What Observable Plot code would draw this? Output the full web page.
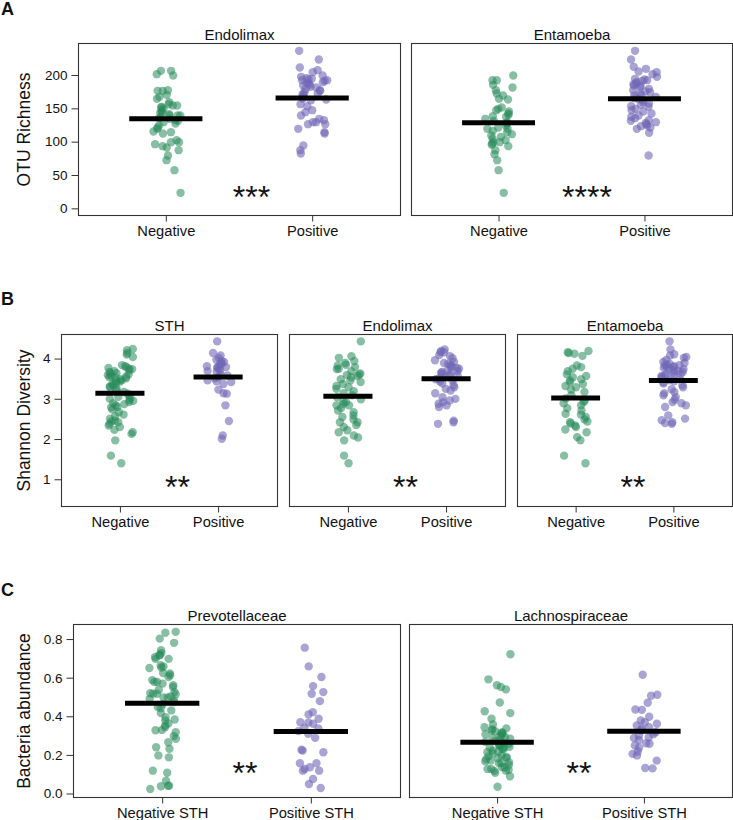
<!DOCTYPE html>
<html><head><meta charset="utf-8">
<script src="https://cdn.jsdelivr.net/npm/d3@7"></script>
<script src="https://cdn.jsdelivr.net/npm/@observablehq/plot@0.6"></script>
<style>
body{margin:0;background:#fff;}
#root{position:relative;width:733px;height:820px;font-family:"Liberation Sans",Arial,sans-serif;color:#111;}
.panel{position:absolute;}
.tag{position:absolute;left:1px;font-weight:bold;font-size:18px;line-height:18px;}
</style></head><body><div id="root"></div>
<script>
// ---- categories / labels ----
const groups = ["Negative", "Positive"];
const groupsSTH = ["Negative STH", "Positive STH"];
const titlesA = ["Endolimax", "Entamoeba"];
const titlesB = ["STH", "Endolimax", "Entamoeba"];
const titlesC = ["Prevotellaceae", "Lachnospiraceae"];
const yLabels = ["OTU Richness", "Shannon Diversity", "Bacteria abundance"];
const ticksA = [0, 50, 100, 150, 200];
const ticksB = [1, 2, 3, 4];
const ticksC = [0, 0.2, 0.4, 0.6, 0.8];
const starsA = ["***", "****"];
const starsB = ["**", "**", "**"];
const starsC = ["**", "**"];

// ---- A: OTU richness ----
const richEndoNeg = [24, 58, 73, 80, 88, 92, 94, 97, 100, 100, 103, 113, 115, 116, 120, 122, 125, 128, 130, 132, 133, 135, 136, 138, 140, 140, 142, 144, 145, 148, 150, 152, 153, 155, 155, 157, 160, 165, 168, 171, 177, 177, 178, 200, 202, 207, 207, 140];
const richEndoPos = [237, 224, 212, 208, 205, 200, 198, 196, 195, 194, 193, 193, 192, 190, 189, 188, 186, 185, 183, 182, 180, 178, 177, 175, 173, 172, 170, 168, 165, 164, 163, 157, 154, 148, 145, 140, 135, 133, 130, 130, 127, 127, 120, 115, 113, 95, 88, 83];
const richEntaNeg = [200, 193, 193, 186, 182, 178, 173, 170, 165, 164, 152, 150, 148, 146, 143, 141, 139, 138, 135, 132, 130, 128, 125, 122, 120, 120, 117, 115, 112, 110, 108, 105, 103, 100, 100, 98, 96, 94, 88, 82, 73, 58, 24];
const richEntaPos = [237, 224, 213, 210, 206, 205, 202, 198, 195, 194, 193, 192, 190, 188, 187, 185, 185, 183, 180, 178, 176, 175, 173, 171, 170, 168, 166, 165, 163, 160, 158, 156, 154, 153, 150, 148, 146, 143, 140, 138, 136, 133, 132, 130, 129, 127, 125, 124, 122, 120, 114, 80];

// ---- B: Shannon diversity ----
const shanSthNeg = [4.25, 4.22, 4.15, 4.11, 4.05, 3.85, 3.82, 3.80, 3.78, 3.76, 3.75, 3.72, 3.70, 3.68, 3.65, 3.64, 3.62, 3.60, 3.58, 3.56, 3.55, 3.54, 3.52, 3.50, 3.47, 3.45, 3.44, 3.40, 3.38, 3.35, 3.32, 3.30, 3.26, 3.22, 3.18, 3.14, 3.10, 3.06, 3.03, 3.01, 2.98, 2.96, 2.93, 2.90, 2.88, 2.85, 2.81, 2.80, 2.75, 2.68, 2.62, 2.58, 2.52, 2.47, 2.45, 2.43, 2.39, 2.35, 2.31, 2.24, 2.18, 2.14, 1.98, 1.60, 1.41];
const shanSthPos = [4.44, 4.15, 4.09, 4.03, 3.98, 3.95, 3.93, 3.90, 3.88, 3.85, 3.82, 3.80, 3.80, 3.78, 3.76, 3.72, 3.70, 3.68, 3.62, 3.59, 3.55, 3.52, 3.47, 3.45, 3.43, 3.38, 3.24, 3.15, 3.14, 2.85, 2.46, 2.10, 2.02];
const shanEndoNeg = [4.44, 4.07, 4.03, 3.95, 3.90, 3.86, 3.84, 3.80, 3.76, 3.75, 3.70, 3.64, 3.62, 3.60, 3.58, 3.55, 3.50, 3.47, 3.43, 3.38, 3.33, 3.30, 3.26, 3.20, 3.15, 3.10, 3.05, 3.00, 2.95, 2.93, 2.88, 2.85, 2.85, 2.78, 2.72, 2.68, 2.60, 2.56, 2.50, 2.43, 2.43, 2.36, 2.31, 2.23, 2.18, 2.10, 2.05, 1.98, 1.60, 1.41];
const shanEndoPos = [4.24, 4.20, 4.17, 4.17, 4.10, 4.07, 4.02, 3.97, 3.93, 3.90, 3.88, 3.85, 3.82, 3.80, 3.78, 3.76, 3.72, 3.70, 3.68, 3.66, 3.64, 3.62, 3.60, 3.59, 3.55, 3.52, 3.50, 3.47, 3.44, 3.40, 3.35, 3.30, 3.26, 3.22, 3.15, 3.05, 3.01, 2.97, 2.93, 2.89, 2.85, 2.81, 2.47, 2.43, 2.39];
const shanEntaNeg = [4.20, 4.17, 4.15, 4.13, 4.08, 3.84, 3.80, 3.76, 3.70, 3.62, 3.58, 3.55, 3.50, 3.47, 3.43, 3.38, 3.33, 3.30, 3.24, 3.18, 3.10, 3.02, 2.97, 2.93, 2.90, 2.85, 2.78, 2.72, 2.64, 2.62, 2.56, 2.50, 2.45, 2.43, 2.40, 2.35, 2.31, 2.25, 2.18, 2.06, 1.98, 1.60, 1.41];
const shanEntaPos = [4.44, 4.24, 4.12, 4.09, 4.05, 4.03, 3.98, 3.93, 3.90, 3.88, 3.86, 3.85, 3.84, 3.82, 3.80, 3.80, 3.78, 3.76, 3.75, 3.72, 3.70, 3.68, 3.66, 3.64, 3.62, 3.60, 3.58, 3.57, 3.55, 3.52, 3.50, 3.47, 3.45, 3.42, 3.39, 3.35, 3.30, 3.25, 3.18, 3.15, 3.10, 3.05, 2.99, 2.93, 2.90, 2.85, 2.81, 2.60, 2.52, 2.48, 2.43, 2.41, 2.39];

// ---- C: Bacteria abundance ----
const prevNeg = [0.84, 0.835, 0.805, 0.783, 0.745, 0.73, 0.72, 0.719, 0.71, 0.70, 0.70, 0.667, 0.66, 0.655, 0.653, 0.627, 0.625, 0.615, 0.606, 0.59, 0.58, 0.58, 0.572, 0.563, 0.554, 0.54, 0.528, 0.522, 0.52, 0.519, 0.516, 0.506, 0.50, 0.50, 0.494, 0.485, 0.476, 0.465, 0.45, 0.445, 0.433, 0.42, 0.398, 0.386, 0.381, 0.365, 0.355, 0.346, 0.332, 0.33, 0.32, 0.30, 0.286, 0.268, 0.242, 0.234, 0.20, 0.19, 0.121, 0.11, 0.069, 0.043, 0.043, 0.04, 0.026];
const prevPos = [0.758, 0.661, 0.606, 0.559, 0.528, 0.519, 0.481, 0.424, 0.412, 0.39, 0.372, 0.37, 0.364, 0.343, 0.34, 0.326, 0.312, 0.291, 0.229, 0.225, 0.216, 0.159, 0.159, 0.139, 0.13, 0.121, 0.121, 0.078, 0.052, 0.031];
const lachNeg = [0.724, 0.594, 0.563, 0.554, 0.542, 0.474, 0.429, 0.419, 0.39, 0.36, 0.346, 0.34, 0.335, 0.329, 0.325, 0.32, 0.315, 0.312, 0.31, 0.303, 0.30, 0.295, 0.29, 0.286, 0.28, 0.275, 0.27, 0.265, 0.26, 0.255, 0.251, 0.248, 0.245, 0.242, 0.24, 0.235, 0.23, 0.225, 0.22, 0.216, 0.21, 0.20, 0.195, 0.19, 0.19, 0.185, 0.18, 0.173, 0.17, 0.165, 0.16, 0.16, 0.15, 0.14, 0.139, 0.13, 0.13, 0.125, 0.121, 0.12, 0.11, 0.092, 0.038];
const lachPos = [0.618, 0.514, 0.509, 0.473, 0.438, 0.436, 0.40, 0.381, 0.372, 0.364, 0.355, 0.346, 0.338, 0.33, 0.32, 0.31, 0.303, 0.294, 0.29, 0.28, 0.263, 0.26, 0.251, 0.24, 0.22, 0.208, 0.20, 0.173, 0.135, 0.133];

// ---- drawing ----
const GREEN = "#268a5a", PURPLE = "#6f68b5";
const FONT = "'Liberation Sans', Arial, sans-serif";
const root = document.getElementById("root");

function panel(cfg) {
  const rnd = d3.randomUniform.source(d3.randomLcg(cfg.seed))(-cfg.jitter, cfg.jitter);
  const pts = [];
  [cfg.neg, cfg.pos].forEach((arr, g) => arr.forEach(v => pts.push({g, v, j: g + rnd()})));
  const means = [cfg.neg, cfg.pos].map((arr, g) => ({g, m: d3.mean(arr)}));
  const marks = [
    Plot.dot(pts.filter(d => d.g === 0), {x: "j", y: "v", r: 4.2, fill: GREEN, fillOpacity: 0.55}),
    Plot.dot(pts.filter(d => d.g === 1), {x: "j", y: "v", r: 4.2, fill: PURPLE, fillOpacity: 0.6}),
    Plot.ruleY(means, {x1: d => d.g - 0.25, x2: d => d.g + 0.25, y: "m", stroke: "#000", strokeWidth: 5}),
    Plot.text([cfg.stars], {x: () => 0.5, y: () => cfg.starY, text: d => d, fontSize: 32, dx: cfg.starDx, dy: 8, fill: "#111"}),
    Plot.text([cfg.title], {frameAnchor: "top", dy: -14, fontSize: 15, text: d => d, fill: "#111"}),
    Plot.frame({stroke: "#333", strokeWidth: 1.1}),
    Plot.axisX({ticks: [0, 1], tickFormat: i => cfg.labels[i], tickSize: 6.5, tickPadding: 3.5, fontSize: 14.7, label: null, stroke: "#333", fill: "#111"})
  ];
  if (cfg.showY) {
    marks.push(Plot.axisY({ticks: cfg.yTicks, tickFormat: cfg.yFormat, tickSize: 6.5, tickPadding: 4.5, fontSize: 13.5, label: null, stroke: "#333", fill: "#111"}));
    marks.push(Plot.text([cfg.yLabel], {frameAnchor: "left", textAnchor: "middle", dx: cfg.yLabelDx, rotate: -90, fontSize: 17.5, text: d => d, fill: "#111"}));
  }
  const svg = Plot.plot({
    width: cfg.width, height: cfg.height,
    marginLeft: cfg.mL, marginRight: cfg.mR, marginTop: cfg.mT, marginBottom: cfg.mB,
    style: {fontFamily: FONT, background: "transparent", overflow: "visible"},
    x: {domain: [-0.6, 1.6]},
    y: {domain: cfg.yDomain, axis: cfg.showY ? undefined : null},
    marks
  });
  const div = document.createElement("div");
  div.className = "panel";
  div.style.left = cfg.left + "px";
  div.style.top = cfg.top + "px";
  div.appendChild(svg);
  root.appendChild(div);
}

// Row A
const rowA = {top: 0, height: 245, mT: 43, mB: 30, yDomain: [-10, 248], yTicks: ticksA, yFormat: d3.format("d"), labels: groups, jitter: 0.1, starY: 28, yLabel: yLabels[0]};
panel({...rowA, title: titlesA[0], neg: richEndoNeg, pos: richEndoPos, stars: starsA[0], starDx: 12, left: 0, width: 401, mL: 78, mR: 1, showY: true, yLabelDx: -54, seed: 0.11});
panel({...rowA, title: titlesA[1], neg: richEntaNeg, pos: richEntaPos, stars: starsA[1], starDx: 15, left: 400, width: 333, mL: 11, mR: 1, showY: false, seed: 0.23});

// Row B
const rowB = {top: 290, height: 245, mT: 44, mB: 29, yDomain: [0.336, 4.61], yTicks: ticksB, yFormat: d3.format("d"), labels: groups, jitter: 0.13, starY: 1.0, yLabel: yLabels[1]};
panel({...rowB, title: titlesB[0], neg: shanSthNeg, pos: shanSthPos, stars: starsB[0], starDx: 8, left: 0, width: 278, mL: 61, mR: 1, showY: true, yLabelDx: -37, seed: 0.31});
panel({...rowB, title: titlesB[1], neg: shanEndoNeg, pos: shanEndoPos, stars: starsB[1], starDx: 8, left: 277, width: 229, mL: 12, mR: 1, showY: false, seed: 0.47});
panel({...rowB, title: titlesB[2], neg: shanEntaNeg, pos: shanEntaPos, stars: starsB[2], starDx: 8, left: 505, width: 228, mL: 12, mR: 1, showY: false, seed: 0.59});

// Row C
const rowC = {top: 580, height: 240, mT: 44, mB: 23, yDomain: [-0.018, 0.878], yTicks: ticksC, yFormat: d3.format(".1f"), labels: groupsSTH, jitter: 0.09, starY: 0.147, yLabel: yLabels[2]};
panel({...rowC, title: titlesC[0], neg: prevNeg, pos: prevPos, stars: starsC[0], starDx: 8, left: 0, width: 401, mL: 73, mR: 1, showY: true, yLabelDx: -49, seed: 0.67});
panel({...rowC, title: titlesC[1], neg: lachNeg, pos: lachPos, stars: starsC[1], starDx: 8, left: 400, width: 333, mL: 9, mR: 1, showY: false, seed: 0.79});

// panel tags
[["A", 0], ["B", 290], ["C", 581]].forEach(([t, y]) => {
  const d = document.createElement("div");
  d.className = "tag"; d.textContent = t; d.style.top = y + "px";
  root.appendChild(d);
});
</script></body></html>
